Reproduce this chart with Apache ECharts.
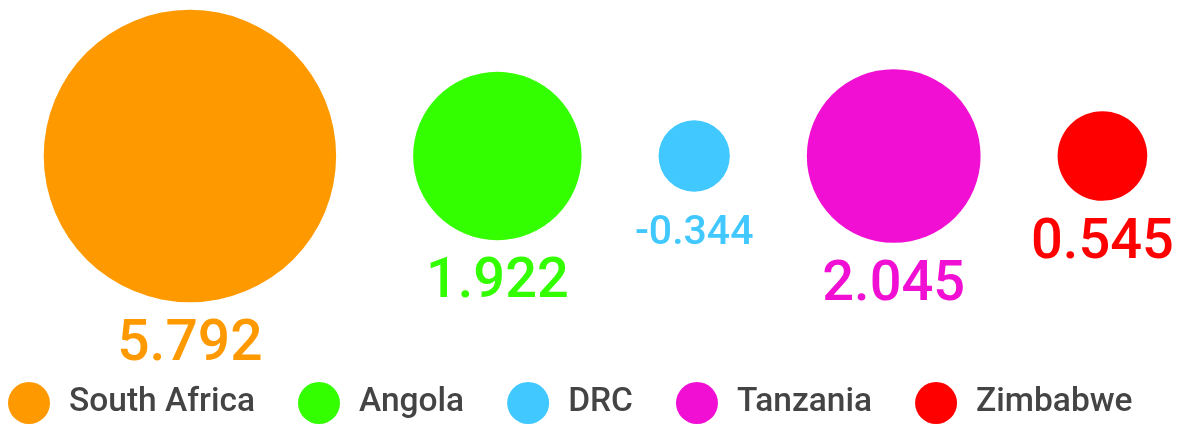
<!DOCTYPE html>
<html>
<head>
<meta charset="utf-8">
<script src="https://cdn.jsdelivr.net/npm/echarts@6/dist/echarts.min.js"></script>
<style>
html,body{margin:0;padding:0;background:#fff;}
#chart{width:1185px;height:424px;}
</style>
</head>
<body>
<div id="chart"></div>
<script>
const categories = ["South Africa", "Angola", "DRC", "Tanzania", "Zimbabwe"];
const values = [5.792, 1.922, -0.344, 2.045, 0.545];
const colors = ["#ff9900", "#33ff00", "#40c8ff", "#f00fd2", "#ff0000"];
const labelSizes = [57, 56, 41, 56, 56];
const labelGaps = [15, 15, 22, 15, 15];

const K = 121.5;      // diameter per sqrt(|value|)
const GAP = 77;       // gap between circles
const W = 1185;
const diam = values.map(v => K * Math.sqrt(Math.abs(v)));
const total = diam.reduce((a, b) => a + b, 0) + GAP * (values.length - 1);
let cursor = (W - total) / 2 + 3;
const centers = diam.map(d => { const c = cursor + d / 2; cursor += d + GAP; return c; });

const chart = echarts.init(document.getElementById('chart'));
chart.setOption({
  animation: false,
  backgroundColor: '#ffffff',
  grid: { left: 0, right: 0, top: 0, height: 312 },
  xAxis: { type: 'value', min: 0, max: W, show: false },
  yAxis: { type: 'value', min: -1, max: 1, show: false },
  legend: {
    data: categories,
    top: 377,
    left: 3,
    icon: 'circle',
    itemWidth: 42,
    itemHeight: 42,
    itemGap: 43,
    textStyle: { fontFamily: 'Roboto', fontSize: 33.5, fontWeight: 500, color: '#444444', padding: [0, 0, 0, 14] }
  },
  series: categories.map((name, i) => ({
    type: 'scatter',
    name: name,
    data: [[centers[i], 0, values[i]]],
    symbol: 'circle',
    symbolSize: (val) => K * Math.sqrt(Math.abs(val[2])),
    itemStyle: { color: colors[i], opacity: 1 },
    label: {
      show: true,
      position: 'bottom',
      distance: labelGaps[i],
      formatter: (p) => String(p.value[2]),
      color: colors[i],
      fontFamily: 'Roboto',
      fontWeight: 500,
      fontSize: labelSizes[i]
    },
    emphasis: { disabled: true }
  }))
});
</script>
</body>
</html>
